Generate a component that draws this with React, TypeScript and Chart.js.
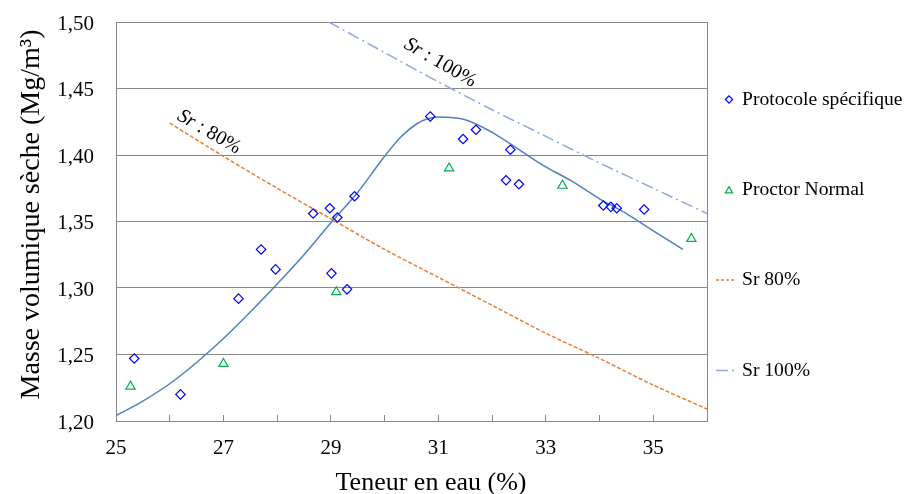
import React, { useEffect, useRef } from 'react';
import { Chart, registerables } from 'chart.js';

Chart.register(...registerables);

// ---- Data ----
const protocoleX = [25.34, 26.2, 27.28, 27.7, 27.97, 28.67, 28.98, 29.12, 29.01, 29.3, 29.44, 30.85, 31.46, 31.7, 32.34, 32.26, 32.5, 34.07, 34.21, 34.32, 34.83];
const protocoleY = [1.247, 1.22, 1.292, 1.329, 1.314, 1.356, 1.36, 1.353, 1.311, 1.299, 1.369, 1.429, 1.412, 1.419, 1.404, 1.381, 1.378, 1.362, 1.361, 1.36, 1.359];

const proctorX = [25.27, 27.0, 29.1, 31.2, 33.31, 35.71];
const proctorY = [1.226, 1.243, 1.297, 1.39, 1.377, 1.337];

const fitX = [25.0, 25.5, 26.0, 26.5, 27.0, 27.5, 28.0, 28.5, 29.0, 29.5, 30.0, 30.3, 30.6, 30.8, 31.0, 31.5, 32.0, 32.5, 33.0, 33.5, 34.0, 34.5, 35.0, 35.55];
const fitY = [1.204, 1.215, 1.228, 1.244, 1.262, 1.282, 1.303, 1.325, 1.349, 1.372, 1.399, 1.4135, 1.4235, 1.4272, 1.4285, 1.4265, 1.417, 1.404, 1.391, 1.38, 1.367, 1.356, 1.343, 1.329];

const sr80X = [26, 27, 28, 29, 30, 31, 32, 33, 34, 35, 36];
const sr80Y = [1.424, 1.399, 1.375, 1.352, 1.329, 1.308, 1.287, 1.266, 1.247, 1.227, 1.209];

const sr100X = [28.96, 30, 31, 32, 33, 34, 35, 36];
const sr100Y = [1.5, 1.477, 1.455, 1.434, 1.414, 1.394, 1.375, 1.356];

const xMin = 25;
const xMax = 36;
const yMin = 1.2;
const yMax = 1.5;

const xTitle = '      Teneur en eau (%)';
const yTitle = '  Masse volumique sèche (Mg/m³)';
const legendLabels = ['Protocole spécifique', 'Proctor Normal', 'Sr 80%', 'Sr 100%'];

const annotItalic = ['Sr', 'Sr'];
const annotRest = [' : 80%', ' : 100%'];
const annotX = [26.12, 30.34];
const annotY = [1.427, 1.481];

// ---- Styles ----
const FONT = '"Liberation Serif", "Times New Roman", serif';
const GRID = '#888888';
const BLUE = '#0000FF';
const GREEN = '#00B050';
const FIT = '#4F81BD';
const ORANGE = '#ED7D31';
const LIGHTBLUE = '#8EA9DB';

const toPts = (xs: number[], ys: number[]) => xs.map((x, i) => ({ x, y: ys[i] }));

function diamond(ctx: CanvasRenderingContext2D, x: number, y: number, r: number) {
  ctx.beginPath();
  ctx.moveTo(x - r, y);
  ctx.lineTo(x, y - r);
  ctx.lineTo(x + r, y);
  ctx.lineTo(x, y + r);
  ctx.closePath();
  ctx.stroke();
}

function triangle(ctx: CanvasRenderingContext2D, x: number, y: number, r: number) {
  ctx.beginPath();
  ctx.moveTo(x, y - r);
  ctx.lineTo(x + r * 0.866, y + r / 2);
  ctx.lineTo(x - r * 0.866, y + r / 2);
  ctx.closePath();
  ctx.stroke();
}

const overlayPlugin = {
  id: 'overlay',
  afterDraw(chart: any) {
    const { ctx, chartArea, scales } = chart;
    const xs = scales.x;
    const ys = scales.y;

    // Sr annotations
    annotX.forEach((ax, i) => {
      const px = xs.getPixelForValue(ax);
      const py = ys.getPixelForValue(annotY[i]);
      ctx.save();
      ctx.translate(px, py);
      ctx.rotate((30 * Math.PI) / 180);
      ctx.fillStyle = '#000';
      ctx.textAlign = 'left';
      ctx.textBaseline = 'alphabetic';
      ctx.font = `italic 20px ${FONT}`;
      ctx.fillText(annotItalic[i], 0, 0);
      const w = ctx.measureText(annotItalic[i]).width;
      ctx.font = `20px ${FONT}`;
      ctx.fillText(annotRest[i], w, 0);
      ctx.restore();
    });

    // Legend
    const lx = chartArea.right;
    legendLabels.forEach((label, i) => {
      const y = chartArea.top + 77.5 + i * 90.3;
      ctx.save();
      ctx.lineWidth = 1.2;
      if (i === 0) {
        ctx.strokeStyle = BLUE;
        diamond(ctx, lx + 22, y, 3.6);
      } else if (i === 1) {
        ctx.strokeStyle = GREEN;
        triangle(ctx, lx + 22, y + 1, 4.2);
      } else if (i === 2) {
        ctx.strokeStyle = ORANGE;
        ctx.lineWidth = 1.5;
        ctx.setLineDash([3, 2]);
        ctx.beginPath();
        ctx.moveTo(lx + 9, y);
        ctx.lineTo(lx + 29, y);
        ctx.stroke();
      } else {
        ctx.strokeStyle = LIGHTBLUE;
        ctx.lineWidth = 1.5;
        ctx.setLineDash([12, 4, 2, 4]);
        ctx.beginPath();
        ctx.moveTo(lx + 9, y);
        ctx.lineTo(lx + 29, y);
        ctx.stroke();
      }
      ctx.setLineDash([]);
      ctx.fillStyle = '#000';
      ctx.font = `19.6px ${FONT}`;
      ctx.textAlign = 'left';
      ctx.textBaseline = 'middle';
      ctx.fillText(label, lx + 35, y);
      ctx.restore();
    });
  },
};

export default function App() {
  const ref = useRef<HTMLCanvasElement | null>(null);

  useEffect(() => {
    if (!ref.current) return;
    const chart = new Chart(ref.current, {
      type: 'scatter',
      data: {
        datasets: [
          {
            label: legendLabels[0],
            data: toPts(protocoleX, protocoleY),
            pointStyle: 'rectRot',
            pointRadius: 4.7,
            pointBorderWidth: 1.2,
            borderColor: BLUE,
            backgroundColor: 'rgba(0,0,0,0)',
            showLine: false,
          },
          {
            label: legendLabels[1],
            data: toPts(proctorX, proctorY),
            pointStyle: 'triangle',
            pointRadius: 5.3,
            pointBorderWidth: 1.2,
            borderColor: GREEN,
            backgroundColor: 'rgba(0,0,0,0)',
            showLine: false,
          },
          {
            label: 'fit',
            data: toPts(fitX, fitY),
            showLine: true,
            pointRadius: 0,
            borderColor: FIT,
            borderWidth: 1.5,
            cubicInterpolationMode: 'monotone',
          },
          {
            label: legendLabels[2],
            data: toPts(sr80X, sr80Y),
            showLine: true,
            pointRadius: 0,
            borderColor: ORANGE,
            borderWidth: 1.5,
            borderDash: [4, 2],
            tension: 0.3,
          },
          {
            label: legendLabels[3],
            data: toPts(sr100X, sr100Y),
            showLine: true,
            pointRadius: 0,
            borderColor: LIGHTBLUE,
            borderWidth: 1.5,
            borderDash: [12, 4, 2, 4],
            tension: 0.3,
          },
        ],
      } as any,
      options: {
        animation: false,
        responsive: true,
        maintainAspectRatio: false,
        layout: { padding: { top: 22, right: 198, bottom: 0, left: 0 } },
        plugins: {
          legend: { display: false },
          tooltip: { enabled: false },
        },
        scales: {
          x: {
            type: 'linear',
            min: xMin,
            max: xMax,
            ticks: {
              stepSize: 1,
              autoSkip: false,
              maxRotation: 0,
              padding: 21,
              color: '#000',
              font: { family: FONT, size: 21 },
              callback: (v: any) => (Number(v) % 2 === 1 ? String(v) : ''),
            },
            grid: {
              color: (c: any) =>
                c.tick && (c.tick.value === xMin || c.tick.value === xMax) ? GRID : 'rgba(0,0,0,0)',
              tickColor: GRID,
              tickLength: -6,
              drawTicks: true,
              lineWidth: 1,
            },
            border: { color: GRID, width: 1 },
            title: {
              display: true,
              text: xTitle,
              color: '#000',
              font: { family: FONT, size: 26, lineHeight: 0.8 },
              padding: 0,
            },
            afterFit: (s: any) => {
              s.height = 73;
              s.paddingLeft = 0;
              s.paddingRight = 0;
            },
          },
          y: {
            type: 'linear',
            min: yMin,
            max: yMax,
            ticks: {
              stepSize: 0.05,
              padding: 22,
              labelOffset: 2,
              color: '#000',
              font: { family: FONT, size: 21 },
              callback: (v: any) => Number(v).toFixed(2).replace('.', ','),
            },
            grid: { color: GRID, drawTicks: false, lineWidth: 1 },
            border: { color: GRID, width: 1 },
            title: {
              display: true,
              text: yTitle,
              color: '#000',
              font: { family: FONT, size: 28, lineHeight: 0.8 },
              padding: { top: 20, bottom: 0 },
            },
            afterFit: (s: any) => {
              s.width = 116;
              s.paddingTop = 0;
              s.paddingBottom = 0;
            },
          },
        },
      } as any,
      plugins: [overlayPlugin],
    });
    return () => chart.destroy();
  }, []);

  return (
    <div style={{ position: 'fixed', left: 0, top: 0, width: 905, height: 494, background: '#fff' }}>
      <canvas ref={ref} />
    </div>
  );
}
